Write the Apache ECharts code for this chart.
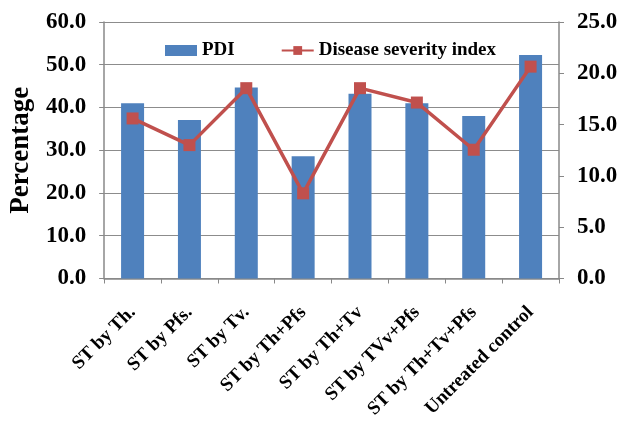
<!DOCTYPE html>
<html><head><meta charset="utf-8">
<script src="https://cdn.jsdelivr.net/npm/echarts@6/dist/echarts.min.js"></script>
<style>html,body{margin:0;padding:0;background:#fff}#c{width:622px;height:421px}</style>
</head><body><div id="c"></div>
<script>
const categories = ['ST by Th.', 'ST by Pfs.', 'ST by Tv.', 'ST by Th+Pfs', 'ST by Th+Tv', 'ST by TVv+Pfs', 'ST by Th+Tv+Pfs', 'Untreated control'];
const pdi = [41.0, 37.1, 44.7, 28.6, 43.2, 41.0, 38.0, 52.3];
const dsi = [15.6, 13.0, 18.55, 8.3, 18.55, 17.15, 12.55, 20.65];
const leftTicks = { min: 0, max: 60, interval: 10 };
const rightTicks = { min: 0, max: 25, interval: 5 };

const font = 'Liberation Serif';
const chart = echarts.init(document.getElementById('c'));
chart.setOption({
  animation: false,
  grid: { left: 99, right: 63, top: 22, bottom: 142 },
  legend: {
    top: 36, left: 160, itemGap: 46,
    textStyle: { fontFamily: font, fontWeight: 'bold', fontSize: 19, color: '#000' },
    data: [
      { name: 'PDI', icon: 'rect', itemStyle: { color: '#4F81BD' } },
      { name: 'Disease severity index' }
    ],
    itemWidth: 32, itemHeight: 11
  },
  xAxis: {
    type: 'category', data: categories,
    axisLine: { lineStyle: { color: '#888', width: 1.5 } },
    axisTick: { show: true, alignWithLabel: false, length: 5, lineStyle: { color: '#888' } },
    axisLabel: { rotate: 45, interval: 0, fontFamily: font, fontWeight: 'bold', fontSize: 19, color: '#000', margin: 31 }
  },
  yAxis: [
    {
      type: 'value', min: leftTicks.min, max: leftTicks.max, interval: leftTicks.interval,
      name: 'Percentage', nameLocation: 'middle', nameGap: 63, nameRotate: 90,
      nameTextStyle: { fontFamily: font, fontWeight: 'bold', fontSize: 27, color: '#000' },
      axisLine: { show: true, lineStyle: { color: '#888', width: 1.5 } },
      axisTick: { show: true, length: 5, lineStyle: { color: '#888' } },
      axisLabel: { formatter: v => v.toFixed(1), fontFamily: font, fontWeight: 'bold', fontSize: 23, color: '#000', margin: 18 },
      splitLine: { show: true, lineStyle: { color: '#8c8c8c', width: 1.2 } }
    },
    {
      type: 'value', min: rightTicks.min, max: rightTicks.max, interval: rightTicks.interval, position: 'right',
      axisLine: { show: true, lineStyle: { color: '#888', width: 1.5 } },
      axisTick: { show: true, length: 5, lineStyle: { color: '#888' } },
      axisLabel: { formatter: v => v.toFixed(1), fontFamily: font, fontWeight: 'bold', fontSize: 23, color: '#000', margin: 18 },
      splitLine: { show: false }
    }
  ],
  series: [
    { name: 'PDI', type: 'bar', data: pdi, barWidth: 23, itemStyle: { color: '#4F81BD' }, yAxisIndex: 0 },
    { name: 'Disease severity index', type: 'line', data: dsi, yAxisIndex: 1,
      symbol: 'rect', symbolSize: 12, lineStyle: { color: '#C0504D', width: 3.5 },
      itemStyle: { color: '#C0504D' } }
  ]
});
</script></body></html>
